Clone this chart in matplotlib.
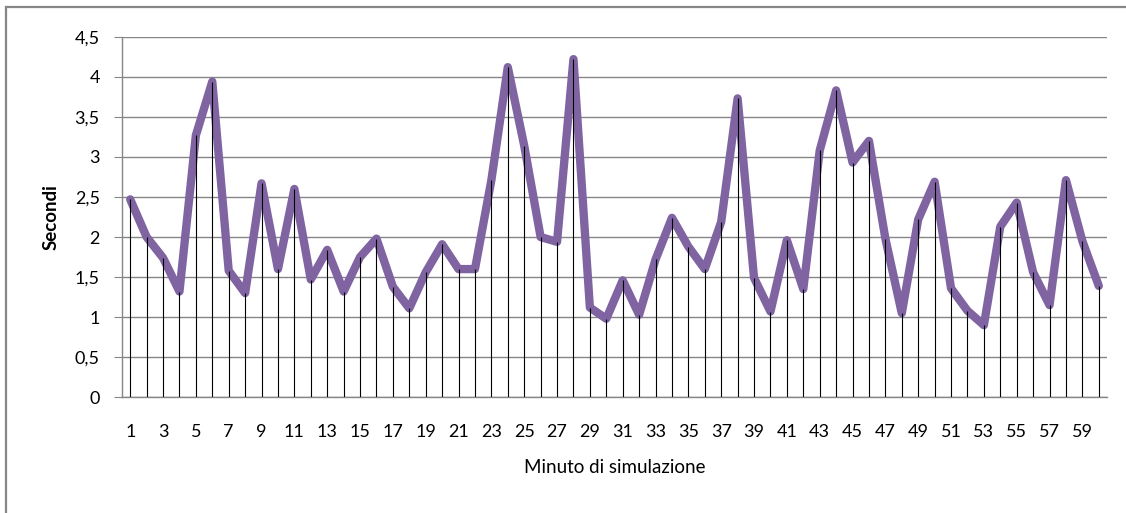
import matplotlib
matplotlib.use("Agg")
import matplotlib.pyplot as plt
import numpy as np
from matplotlib.patches import Rectangle

# Minuto di simulazione / Secondi
minutes = list(range(1, 61))
seconds = [2.47, 2.00, 1.74, 1.32, 3.27, 3.94, 1.58, 1.30, 2.67, 1.60,
           2.60, 1.47, 1.84, 1.32, 1.75, 1.98, 1.38, 1.11, 1.56, 1.91,
           1.60, 1.60, 2.71, 4.12, 3.14, 2.00, 1.94, 4.22, 1.12, 0.98,
           1.46, 1.03, 1.72, 2.24, 1.88, 1.60, 2.19, 3.73, 1.49, 1.07,
           1.96, 1.35, 3.08, 3.83, 2.93, 3.20, 1.98, 1.05, 2.22, 2.69,
           1.36, 1.08, 0.90, 2.13, 2.43, 1.56, 1.15, 2.71, 1.95, 1.39]
y_ticks = [0, 0.5, 1, 1.5, 2, 2.5, 3, 3.5, 4, 4.5]
x_ticks = list(range(1, 61, 2))

plt.rcParams['font.family'] = ['Lato', 'DejaVu Sans']
GRID = '#868686'
PURPLE = '#8064A2'

W, H = 1126, 513
fig = plt.figure(figsize=(W / 100, H / 100), dpi=100)
ax = fig.add_axes([122 / W, 1 - 397.3 / H, (1107 - 122) / W, (397.3 - 36.7) / H])

# outer chart frame (cut off on the right and bottom in the reference)
fig.patches.append(Rectangle((6 / W, -0.1), 1.2, 1 - 7 / H + 0.1,
                             transform=fig.transFigure, fill=False,
                             edgecolor=GRID, linewidth=1.6))

ax.set_xlim(0.5, 60.5)
ax.set_ylim(0, 4.5)
ax.set_yticks(y_ticks)
ax.set_yticklabels([('%g' % v).replace('.', ',') for v in y_ticks])
ax.set_xticks(x_ticks)
ax.set_xticklabels([str(v) for v in x_ticks])

ax.grid(axis='y', color=GRID, linewidth=1.0)
ax.set_axisbelow(True)
for side in ('top', 'right'):
    ax.spines[side].set_visible(False)
for side in ('left', 'bottom'):
    ax.spines[side].set_color(GRID)
    ax.spines[side].set_linewidth(1.0)

ax.tick_params(axis='y', length=6, color=GRID, pad=10, labelsize=13)
ax.tick_params(axis='x', length=0, pad=19, labelsize=13)

ax.plot(minutes, seconds, color=PURPLE, linewidth=6,
        solid_joinstyle='round', solid_capstyle='round', zorder=3)
ax.vlines(minutes, 0, seconds, color='black', linewidth=0.8, zorder=4)

ax.set_xlabel('Minuto di simulazione', fontsize=13.5, labelpad=14)
ax.set_ylabel('Secondi', fontsize=13.5, fontweight='bold', labelpad=11)

fig.savefig('out.png', dpi=100)
